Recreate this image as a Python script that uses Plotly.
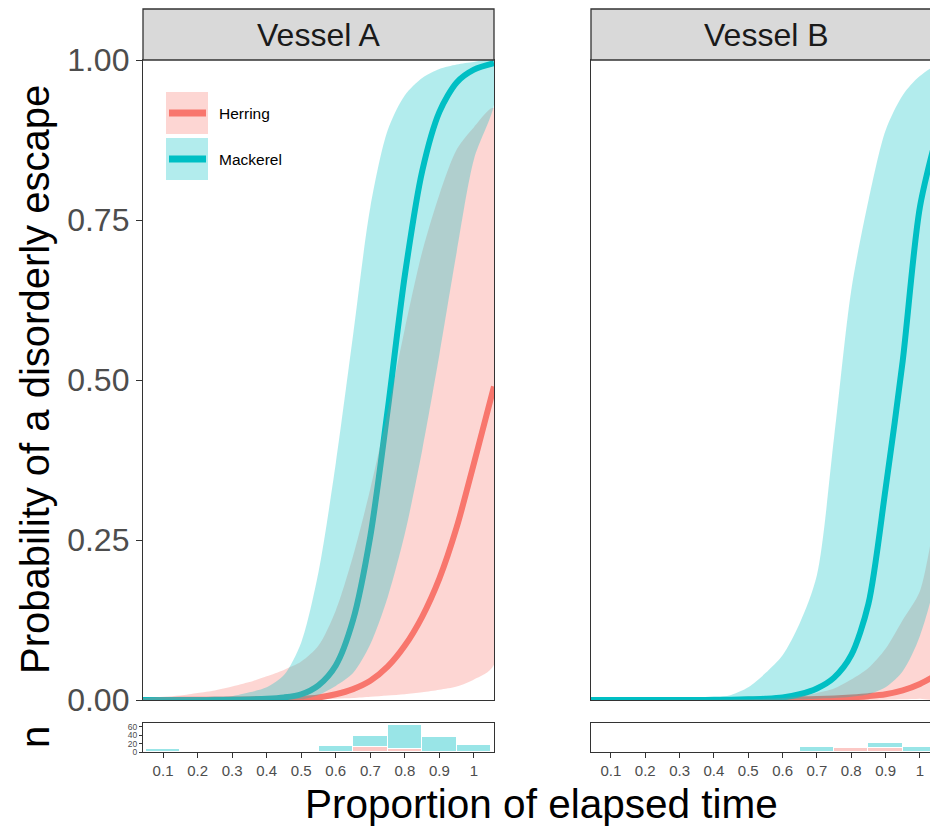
import plotly.graph_objects as go

# ---------------- data ----------------
xs = [0.042, 0.1, 0.15, 0.2, 0.25, 0.3, 0.35, 0.4, 0.45, 0.5, 0.55, 0.6, 0.65,
      0.7, 0.75, 0.8, 0.85, 0.9, 0.95, 1.0, 1.058]

# Vessel A
a_mack_fit = [0.0, 0.0, 0.0, 0.0001, 0.0002, 0.0003, 0.0008, 0.0018, 0.004, 0.009, 0.023,
              0.054, 0.125, 0.256, 0.452, 0.664, 0.826, 0.919, 0.965, 0.985, 0.995]
a_mack_hi = [0.001, 0.001, 0.0015, 0.002, 0.004, 0.006, 0.012, 0.02, 0.039, 0.09, 0.2,
             0.37, 0.57, 0.77, 0.89, 0.945, 0.972, 0.986, 0.993, 0.997, 0.999]
a_mack_lo = [0.0, 0.0, 0.0, 0.0, 0.0, 0.0, 0.0, 0.0, 0.0003, 0.001, 0.008,
             0.022, 0.042, 0.087, 0.16, 0.26, 0.39, 0.54, 0.70, 0.845, 0.93]
a_herr_fit = [0.0001, 0.0001, 0.0002, 0.0003, 0.0004, 0.0006, 0.0009, 0.0013, 0.0018, 0.002, 0.004,
              0.009, 0.017, 0.03, 0.052, 0.085, 0.13, 0.19, 0.27, 0.37, 0.49]
a_herr_hi = [0.003, 0.005, 0.007, 0.011, 0.015, 0.021, 0.028, 0.037, 0.047, 0.06, 0.085,
             0.14, 0.225, 0.33, 0.45, 0.58, 0.70, 0.79, 0.86, 0.895, 0.925]
a_herr_lo = [0.0, 0.0, 0.0, 0.0, 0.0, 0.0, 0.0, 0.0, 0.0002, 0.0005, 0.001,
             0.002, 0.003, 0.005, 0.007, 0.009, 0.012, 0.016, 0.021, 0.032, 0.055]

# Vessel B
b_mack_fit = [0.0, 0.0, 0.0, 0.0, 0.0, 0.0, 0.0, 0.0002, 0.0005, 0.001, 0.002,
              0.004, 0.009, 0.018, 0.035, 0.07, 0.15, 0.33, 0.53, 0.77, 0.9]
b_mack_hi = [0.0003, 0.0005, 0.0008, 0.001, 0.0015, 0.002, 0.003, 0.004, 0.008, 0.02, 0.042,
             0.07, 0.12, 0.195, 0.41, 0.64, 0.78, 0.89, 0.945, 0.975, 0.99]
b_mack_lo = [0.0, 0.0, 0.0, 0.0, 0.0, 0.0, 0.0, 0.0, 0.0, 0.0, 0.0002,
             0.0005, 0.001, 0.002, 0.003, 0.005, 0.009, 0.02, 0.045, 0.1, 0.23]
b_herr_fit = [0.0, 0.0, 0.0, 0.0, 0.0, 0.0, 0.0, 0.0, 0.0, 0.0002, 0.0003,
              0.0005, 0.001, 0.0015, 0.0025, 0.004, 0.006, 0.009, 0.015, 0.025, 0.042]
b_herr_hi = [0.0, 0.0, 0.0, 0.0, 0.0, 0.0002, 0.0003, 0.0005, 0.0008, 0.001, 0.002,
             0.003, 0.006, 0.011, 0.018, 0.032, 0.05, 0.08, 0.125, 0.17, 0.31]
b_herr_lo = [0.0, 0.0, 0.0, 0.0, 0.0, 0.0, 0.0, 0.0, 0.0, 0.0, 0.0,
             0.0, 0.0, 0.0, 0.0, 0.0, 0.0, 0.0005, 0.001, 0.002, 0.003]

# histogram of observations (counts)
bins = [0.1, 0.2, 0.3, 0.4, 0.5, 0.6, 0.7, 0.8, 0.9, 1.0]
bin_labels = ["0.1", "0.2", "0.3", "0.4", "0.5", "0.6", "0.7", "0.8", "0.9", "1"]
a_herr_n = [0, 0, 0, 0, 0, 0, 12, 6, 0, 0]
a_mack_n = [6, 0, 0, 0, 0, 14, 27, 57, 36, 16]
b_herr_n = [0, 0, 0, 0, 0, 0, 0, 9, 10, 0]
b_mack_n = [0, 0, 0, 0, 0, 0, 11, 0, 11, 13]

species = ["Herring", "Mackerel"]
y_ticks = [0, 0.25, 0.5, 0.75, 1.0]
y_tick_labels = ["0.00", "0.25", "0.50", "0.75", "1.00"]
n_ticks = [0, 20, 40, 60]

# ---------------- styling ----------------
W, H = 938, 826
OFF = 8  # page body margin
FONT = "Liberation Sans, Arial, sans-serif"
RED, CYAN = "#F8766D", "#00BFC4"
RED_A = "rgba(248,118,109,0.3)"
CYAN_A = "rgba(0,191,196,0.3)"
RED_H = "rgba(248,118,109,0.4)"
CYAN_H = "rgba(0,191,196,0.4)"
BORDER = "#333333"


def px(x):
    return (x - OFF) / W


def py(y):
    return 1 - (y - OFF) / H


domA = [px(143), px(494)]
domB = [px(591), 1.0]
dom_main = [py(700), py(60)]
dom_hist = [py(752), py(723)]
xrA = [0.042, 1.058]
xrB = [0.042, 0.042 + (W + OFF - 591) / 343.3]

fig = go.Figure()


def add_panel(xa, ya, fits, his, los):
    # lines first, ribbons drawn over them (as in the original)
    for fit, col in zip(fits, [RED, CYAN]):
        fig.add_trace(go.Scatter(x=xs, y=fit, mode="lines", xaxis=xa, yaxis=ya,
                                 line=dict(color=col, width=6, shape="spline", smoothing=0.8),
                                 showlegend=False, hoverinfo="skip"))
    for hi, lo, col in zip(his, los, [RED_A, CYAN_A]):
        fig.add_trace(go.Scatter(x=xs + xs[::-1], y=hi + lo[::-1], mode="lines",
                                 fill="toself", fillcolor=col, xaxis=xa, yaxis=ya,
                                 line=dict(width=0, shape="spline", smoothing=0.8),
                                 showlegend=False, hoverinfo="skip"))


add_panel("x", "y", [a_herr_fit, a_mack_fit], [a_herr_hi, a_mack_hi], [a_herr_lo, a_mack_lo])
add_panel("x2", "y2", [b_herr_fit, b_mack_fit], [b_herr_hi, b_mack_hi], [b_herr_lo, b_mack_lo])

for xa, ya, counts in [("x3", "y3", [a_herr_n, a_mack_n]), ("x4", "y4", [b_herr_n, b_mack_n])]:
    for c, col, name in zip(counts, [RED_H, CYAN_H], species):
        fig.add_trace(go.Bar(x=bins, y=c, width=0.1, xaxis=xa, yaxis=ya, name=name,
                             marker=dict(color=col, line=dict(color="white", width=1.2)),
                             showlegend=False, hoverinfo="skip"))

axis_common = dict(showgrid=False, zeroline=False, showline=True, mirror=True,
                   linecolor=BORDER, linewidth=1.3, automargin=False)

layout = dict(
    template="none",
    width=W, height=H, margin=dict(l=0, r=0, t=0, b=0, pad=0, autoexpand=False),
    autosize=False, showlegend=False,
    paper_bgcolor="white", plot_bgcolor="white", barmode="stack", bargap=0,
    font=dict(family=FONT, color="#000000"),
    xaxis=dict(domain=domA, range=xrA, anchor="y", showticklabels=False, ticks="", **axis_common),
    yaxis=dict(domain=dom_main, range=[0, 1], anchor="x", tickvals=y_ticks, ticktext=y_tick_labels,
               ticks="outside", ticklen=6, tickwidth=1.3, tickcolor=BORDER,
               tickfont=dict(size=32, color="#4D4D4D", family=FONT), **axis_common),
    xaxis2=dict(domain=domB, range=xrB, anchor="y2", showticklabels=False, ticks="", **axis_common),
    yaxis2=dict(domain=dom_main, range=[0, 1], anchor="x2", showticklabels=False, ticks="", **axis_common),
    xaxis3=dict(domain=domA, range=xrA, anchor="y3", tickvals=bins, ticktext=bin_labels,
                ticks="outside", ticklen=5, tickwidth=1.3, tickcolor=BORDER,
                tickfont=dict(size=15, color="#4D4D4D", family=FONT), **axis_common),
    yaxis3=dict(domain=dom_hist, range=[0, 68.8], anchor="x3", tickvals=n_ticks,
                ticks="outside", ticklen=3, tickwidth=1, tickcolor=BORDER,
                tickfont=dict(size=8.5, color="#4D4D4D", family=FONT), **axis_common),
    xaxis4=dict(domain=domB, range=xrB, anchor="y4", tickvals=bins, ticktext=bin_labels,
                ticks="outside", ticklen=5, tickwidth=1.3, tickcolor=BORDER,
                tickfont=dict(size=15, color="#4D4D4D", family=FONT), **axis_common),
    yaxis4=dict(domain=dom_hist, range=[0, 68.8], anchor="x4", showticklabels=False, ticks="",
                **axis_common),
)
fig.update_layout(**layout)

shapes = []
annotations = []
# facet strips
for x0, x1, label, cx in [(143, 494, "Vessel A", 318.5), (591, 960, "Vessel B", 766)]:
    shapes.append(dict(type="rect", xref="paper", yref="paper", x0=px(x0), x1=px(x1),
                       y0=py(60), y1=py(9), fillcolor="#D9D9D9",
                       line=dict(color=BORDER, width=1.3), layer="above"))
    annotations.append(dict(x=px(cx), y=py(35), xref="paper", yref="paper", text=label,
                            showarrow=False, xanchor="center", yanchor="middle",
                            font=dict(size=32, color="#1A1A1A", family=FONT)))

# legend drawn inside panel A
for (y0, y1, ly), fill, col, name in zip([(92, 134, 113), (138, 180, 159)], [RED_A, CYAN_A],
                                         [RED, CYAN], species):
    shapes.append(dict(type="rect", xref="paper", yref="paper", x0=px(166), x1=px(208),
                       y0=py(y1), y1=py(y0), fillcolor=fill, line=dict(width=0)))
    shapes.append(dict(type="line", xref="paper", yref="paper", x0=px(169), x1=px(206),
                       y0=py(ly), y1=py(ly), line=dict(color=col, width=7)))
    annotations.append(dict(x=px(217), y=py(ly), xref="paper", yref="paper", text=name,
                            showarrow=False, xanchor="left", yanchor="middle",
                            font=dict(size=15.5, color="#000000", family=FONT)))

# axis titles
annotations.append(dict(x=px(35), y=py(380), xref="paper", yref="paper",
                        text="Probability of a disorderly escape", textangle=-90,
                        showarrow=False, xanchor="center", yanchor="middle",
                        font=dict(size=40, color="#000000", family=FONT)))
annotations.append(dict(x=px(35), y=py(737), xref="paper", yref="paper", text="n",
                        textangle=-90, showarrow=False, xanchor="center", yanchor="middle",
                        font=dict(size=40, color="#000000", family=FONT)))
annotations.append(dict(x=px(541), y=py(804), xref="paper", yref="paper",
                        text="Proportion of elapsed time", showarrow=False,
                        xanchor="center", yanchor="middle",
                        font=dict(size=40.5, color="#000000", family=FONT)))

fig.update_layout(shapes=shapes, annotations=annotations)
fig.write_html("out.html")
